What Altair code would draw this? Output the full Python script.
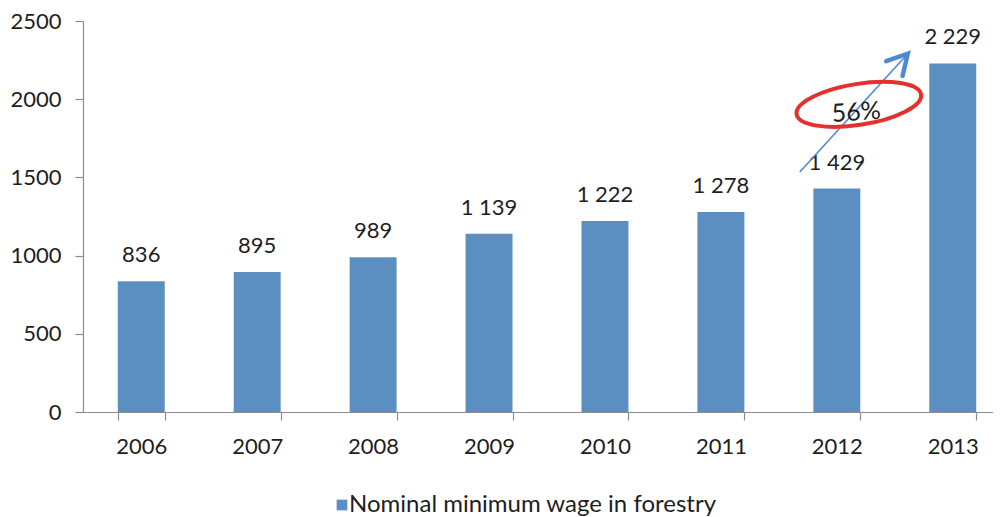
import altair as alt
import pandas as pd

# ---- data ----
years = ["2006", "2007", "2008", "2009", "2010", "2011", "2012", "2013"]
values = [836, 895, 989, 1139, 1222, 1278, 1429, 2229]
value_labels = ["836", "895", "989", "1 139", "1 222", "1 278", "1 429", "2 229"]
series_name = "Nominal minimum wage in forestry"
y_ticks = [0, 500, 1000, 1500, 2000, 2500]

# annotation anchors (data coordinates)
arrow_from_year, arrow_from_value = "2012", 1535
arrow_to_year, arrow_to_value = "2013", 2291
ellipse_year, ellipse_value = "2012", 1967
pct_label, pct_year, pct_value = "56%", "2012", 1865

FONT = "Lato"
BAR = "#5b8fc2"
RED = "#e4312b"
ARROW = "#4f8ad0"
TXT = "#1e1e1e"
FS = 22

df = pd.DataFrame({"year": years, "value": values, "label": value_labels,
                   "series": [series_name] * len(years)})
arrow_df = pd.DataFrame({"y1": [arrow_from_year], "v1": [arrow_from_value],
                         "y2": [arrow_to_year], "v2": [arrow_to_value]})
head_df = pd.DataFrame({"year": [arrow_to_year], "value": [arrow_to_value]})
ell_df = pd.DataFrame({"year": [ellipse_year], "value": [ellipse_value]})
pct_df = pd.DataFrame({"year": [pct_year], "value": [pct_value], "t": [pct_label]})

xscale = alt.Scale(range=[0, 928], paddingInner=0.595, paddingOuter=0.3)
yscale = alt.Scale(domain=[0, 2500], nice=False)

x = alt.X("year:N", scale=xscale, sort=years,
          axis=alt.Axis(title=None, tickBand="extent", labelAngle=0, labelPadding=16))
y = alt.Y("value:Q", scale=yscale,
          axis=alt.Axis(title=None, values=y_ticks, labelPadding=14, format="d"))

bars = alt.Chart(df).mark_bar(color=BAR).encode(
    x=x, y=y,
    color=alt.Color("series:N", scale=alt.Scale(range=[BAR]),
                    legend=alt.Legend(title=None, orient="none", legendX=247, legendY=472,
                                      symbolType="square", symbolSize=115,
                                      labelFontSize=24, labelOffset={"expr": "-5"}, padding=0,
                                      labelLimit=0, labelColor=TXT, labelFont=FONT,
                                      symbolStrokeWidth=0)),
)

labels = alt.Chart(df).mark_text(dy=-19, baseline="alphabetic", fontSize=FS,
                                 font=FONT, color=TXT).encode(
    x=alt.X("year:N", sort=years), y="value:Q", text="label:N")

arrow = alt.Chart(arrow_df).mark_rule(color=ARROW, strokeWidth=1.6,
                                      xOffset=-37, x2Offset=-45).encode(
    x=alt.X("y1:N", sort=years), x2="y2:N",
    y="v1:Q", y2="v2:Q")

head = alt.Chart(head_df).mark_point(
    shape="M -0.55 1 L 0 0 L 0.55 1", size=1600, angle=42, filled=False,
    strokeWidth=4.5, color=ARROW, xOffset=-45, opacity=1,
    strokeCap="round", strokeJoin="miter").encode(
    x=alt.X("year:N", sort=years), y="value:Q")

ellipse = alt.Chart(ell_df).mark_point(
    shape="M -1 0 A 1 0.325 0 1 1 1 0 A 1 0.325 0 1 1 -1 0 Z",
    size=15876, angle=351, filled=False, strokeWidth=4, color=RED,
    xOffset=22, opacity=1).encode(
    x=alt.X("year:N", sort=years), y="value:Q")

pct = alt.Chart(pct_df).mark_text(fontSize=25, font=FONT, color=TXT, align="center",
                                  baseline="alphabetic", xOffset=20, angle=356).encode(
    x=alt.X("year:N", sort=years), y="value:Q", text="t:N")

chart = alt.layer(bars, labels, arrow, head, ellipse, pct).properties(
    width=910, height=391,
    autosize=alt.AutoSizeParams(type="none"),
    padding={"left": 75, "top": 13, "right": 0, "bottom": 110},
).configure_view(strokeWidth=0).configure_axis(
    grid=False, domainColor="#8c8c8c", tickColor="#8c8c8c", tickSize=8,
    labelFontSize=FS, labelFont=FONT, labelColor=TXT, domainWidth=1.2, tickWidth=1.2,
).configure_text(font=FONT)

chart.save("out.html", embed_options={"renderer": "svg", "actions": False})
